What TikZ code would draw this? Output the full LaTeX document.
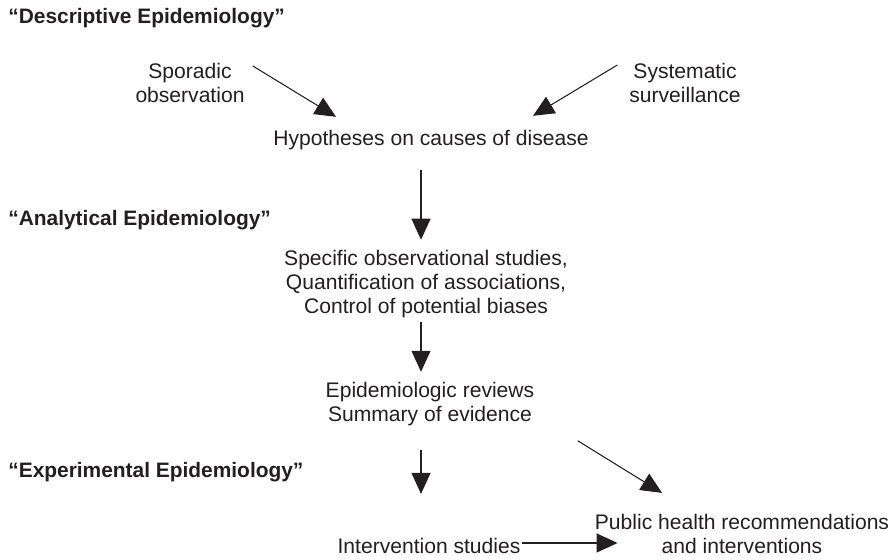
\documentclass[tikz,border=0pt]{standalone}
\usepackage{fontspec}
\setmainfont{Liberation Sans}
\usepackage{xcolor}
\usepackage{tikz}
\usetikzlibrary{arrows.meta,positioning}
\definecolor{ink}{RGB}{35,31,32}

\begin{document}
\begin{tikzpicture}[x=0.02cm, y=0.02cm, every node/.style={font=\fontsize{12}{13.7}\selectfont, text=ink, inner sep=0pt},
  head/.style={anchor=west, font=\fontsize{11.9}{13.7}\selectfont\bfseries},
  txt/.style={align=center},
  arr/.style={-{Triangle[length=4.2mm, width=3.8mm]}, line width=0.6pt, draw=ink}]
\useasboundingbox (0,0) rectangle (895,560);
% Headings
\node[head] (desc) at (8,542) {“Descriptive Epidemiology”};
\node[head] (anal) at (8,340) {“Analytical Epidemiology”};
\node[head] (expe) at (8,88) {“Experimental Epidemiology”};
% Sources
\node[txt] (spor) at (190,477) {Sporadic\\observation};
\node[txt] (syst) at (685,477) {Systematic\\surveillance};
\node[txt] (hyp) at (431,420) {Hypotheses on causes of disease};
% Studies and evidence
\node[txt] (spec) at (426,276) {Specific observational studies,\\Quantification of associations,\\Control of potential biases};
\node[txt] (rev) at (430,155.5) {Epidemiologic reviews\\Summary of evidence};
\node[txt] (interv) at (429,14) {Intervention studies};
\node[txt] (pub) at (742,26) {Public health recommendations\\and interventions};
% Arrows
\draw[arr] ([shift={(8,17)}]spor.east) -- ([shift={(-95,13)}]hyp.north);
\draw[arr] ([shift={(-11.6,18)}]syst.west) -- ([shift={(102,14)}]hyp.north);
\draw[arr] ([shift={(-10,-20)}]hyp.south) -- ([shift={(-5,10)}]spec.north);
\draw[arr] ([shift={(-5,-4)}]spec.south) -- ([shift={(-9,10.5)}]rev.north);
\draw[arr] ([shift={(-9,-23.5)}]rev.south) -- ([shift={(-8,44)}]interv.north);
\draw[arr] ([shift={(43,-14)}]rev.south east) -- ([shift={(-80,21)}]pub.north);
\draw[arr] ([shift={(1.5,3)}]interv.east) -- ([shift={(23,-9)}]pub.west);
\end{tikzpicture}
\end{document}
